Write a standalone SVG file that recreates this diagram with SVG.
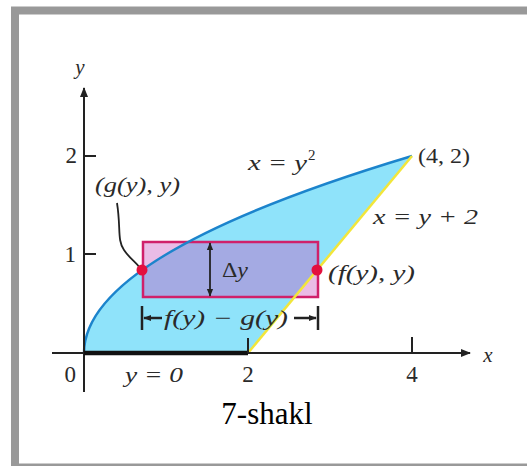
<svg xmlns="http://www.w3.org/2000/svg" width="527" height="466" viewBox="0 0 527 466">
<defs>
<style>
.axis{stroke:#222;stroke-width:2;fill:none}
</style>
<marker id="ah" viewBox="0 0 10 10" refX="9" refY="5" markerWidth="10" markerHeight="10" markerUnits="userSpaceOnUse" orient="auto">
<path d="M0,1 L10,5 L0,9 Z" fill="#222"/>
</marker>
<marker id="ahs" viewBox="0 0 10 10" refX="9" refY="5" markerWidth="8" markerHeight="8" markerUnits="userSpaceOnUse" orient="auto">
<path d="M0,1 L10,5 L0,9 Z" fill="#222"/>
</marker>
</defs>
<rect x="0" y="0" width="527" height="466" fill="#fff"/>
<rect x="15" y="10.5" width="530" height="457" fill="none" stroke="#999" stroke-width="8"/>

<g id="region">
<path d="M84,353 Q84,254.5 412,156 L248,353 Z" fill="#8fe3fa"/>
</g>
<g id="rect">
<rect x="143" y="242" width="175" height="55" fill="rgb(200,80,190)" fill-opacity="0.38" stroke="#d0206a" stroke-width="2.5"/>
</g>
<g id="curves">
<path d="M84,353 Q84,254.5 412,156" fill="none" stroke="#1c84cc" stroke-width="2.5"/>
<line x1="248" y1="353" x2="412" y2="156" stroke="#f2e63a" stroke-width="2.5"/>
</g>

<g id="axes">
<line class="axis" x1="84" y1="392" x2="84" y2="88" marker-end="url(#ah)"/>
<line class="axis" x1="52" y1="353" x2="470" y2="353" marker-end="url(#ah)"/>
<line x1="84" y1="353" x2="248" y2="353" stroke="#111" stroke-width="4.5"/>
<line class="axis" x1="84" y1="156" x2="96" y2="156"/>
<line class="axis" x1="84" y1="254" x2="96" y2="254"/>
<line class="axis" x1="248" y1="338" x2="248" y2="353"/>
<line class="axis" x1="412" y1="337" x2="412" y2="353"/>
<text font-family="'Liberation Serif', serif" font-style="italic" font-size="21" fill="#2a2a2a" x="80" y="74" text-anchor="middle">y</text>
<text font-family="'Liberation Serif', serif" font-style="italic" font-size="21" fill="#2a2a2a" x="488" y="362" text-anchor="middle">x</text>
<text font-family="'Liberation Serif', serif" font-size="23" fill="#2a2a2a" x="77" y="163" text-anchor="end">2</text>
<text font-family="'Liberation Serif', serif" font-size="23" fill="#2a2a2a" x="76" y="262" text-anchor="end">1</text>
<text font-family="'Liberation Serif', serif" font-size="23" fill="#2a2a2a" x="76" y="382" text-anchor="end">0</text>
<text font-family="'Liberation Serif', serif" font-size="23" fill="#2a2a2a" x="248" y="382" text-anchor="middle">2</text>
<text font-family="'Liberation Serif', serif" font-size="23" fill="#2a2a2a" x="412" y="382" text-anchor="middle">4</text>
</g>

<g id="connectors">
<path d="M117,203 C121,228 117,240 124,250 C130,259 136,262 140,268" fill="none" stroke="#222" stroke-width="1.8"/>
<line x1="210" y1="270" x2="210" y2="243" stroke="#222" stroke-width="1.8" marker-end="url(#ahs)"/>
<line x1="210" y1="270" x2="210" y2="296" stroke="#222" stroke-width="1.8" marker-end="url(#ahs)"/>
<line x1="142" y1="306" x2="142" y2="330" stroke="#222" stroke-width="2.5"/>
<line x1="318" y1="306" x2="318" y2="330" stroke="#222" stroke-width="2.5"/>
<line x1="162" y1="318" x2="144" y2="318" stroke="#222" stroke-width="2.5" marker-end="url(#ahs)"/>
<line x1="294" y1="318" x2="316" y2="318" stroke="#222" stroke-width="2.5" marker-end="url(#ahs)"/>
</g>

<g id="points">
<circle cx="142" cy="270" r="5.5" fill="#e3103e"/>
<circle cx="317" cy="270" r="5.5" fill="#e3103e"/>
</g>

<g id="labels">
<text font-family="'Liberation Serif', serif" font-style="italic" font-size="21" fill="#2a2a2a" x="95" y="192" textLength="85" lengthAdjust="spacingAndGlyphs">(g(y), y)</text>
<text font-family="'Liberation Serif', serif" font-style="italic" font-size="21" fill="#2a2a2a" x="248" y="170" textLength="59" lengthAdjust="spacingAndGlyphs">x = y</text>
<text font-family="'Liberation Serif', serif" font-size="15" fill="#2a2a2a" x="308" y="160">2</text>
<text font-family="'Liberation Serif', serif" font-size="21" fill="#2a2a2a" x="418" y="163" textLength="52" lengthAdjust="spacingAndGlyphs">(4, 2)</text>
<text font-family="'Liberation Serif', serif" font-style="italic" font-size="21" fill="#2a2a2a" x="373" y="224" textLength="105" lengthAdjust="spacingAndGlyphs">x = y + 2</text>
<text font-family="'Liberation Serif', serif" font-style="italic" font-size="21" fill="#2a2a2a" x="328" y="280" textLength="87" lengthAdjust="spacingAndGlyphs">(f(y), y)</text>
<text font-family="'Liberation Serif', serif" font-size="21" fill="#2a2a2a" x="222" y="277" textLength="26" lengthAdjust="spacingAndGlyphs">Δ<tspan font-style="italic">y</tspan></text>
<text font-family="'Liberation Serif', serif" font-style="italic" font-size="21" fill="#2a2a2a" x="164" y="325" textLength="124" lengthAdjust="spacingAndGlyphs">f(y) − g(y)</text>
<text font-family="'Liberation Serif', serif" font-style="italic" font-size="21" fill="#2a2a2a" x="125" y="382" textLength="58" lengthAdjust="spacingAndGlyphs">y = 0</text>
</g>

<g id="caption">
<text x="267" y="424" text-anchor="middle" font-family="'Liberation Serif', serif" font-size="31" fill="#000">7-shakl</text>
</g>
</svg>
